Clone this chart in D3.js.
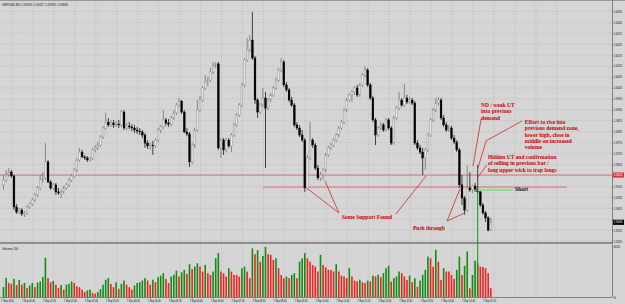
<html>
<head>
<title>GBPUSD M5 - 7 Sep 2011</title>
<script src="https://d3js.org/d3.v7.min.js"></script>
<style>
body { margin: 0; padding: 0; background: #d5d5d5; overflow: hidden; }
text { font-family: "Liberation Sans", Arial, sans-serif; }
.note { font-family: "Liberation Serif", "DejaVu Serif", serif; font-weight: bold; fill: #cc0000; font-size: 5.5px; }
</style>
</head>
<body>
<svg id="chart" width="625" height="304"></svg>
<script>

// GBPUSD M5, 7 Sep 2011, one row = 40 minutes (8 bars)
var opens = [
1.59577,1.59599,1.59622,1.59636,1.59618,1.59476,1.59453,1.59462,
1.59444,1.59449,1.59476,1.59490,1.59508,1.59531,1.59563,1.59599,
1.59609,1.59682,1.59590,1.59563,1.59577,1.59545,1.59540,1.59545,
1.59563,1.59577,1.59599,1.59618,1.59645,1.59691,1.59727,1.59705,
1.59700,1.59691,1.59700,1.59737,1.59746,1.59759,1.59796,1.59837,
1.59864,1.59851,1.59860,1.59851,1.59855,1.59851,1.59910,1.59837,
1.59846,1.59842,1.59837,1.59828,1.59823,1.59819,1.59805,1.59768,
1.59755,1.59759,1.59755,1.59782,1.59828,1.59842,1.59874,1.59860,
1.59855,1.59883,1.59906,1.59942,1.59960,1.59910,1.59819,1.59810,
1.59682,1.59759,1.59828,1.59919,1.59965,1.60020,1.60047,1.60056,
1.60093,1.60120,1.60130,1.59746,1.59782,1.59737,1.59782,1.59755,
1.59805,1.59851,1.59896,1.59942,1.60034,1.60148,1.60194,1.60239,
1.60157,1.59965,1.59910,1.59942,1.59974,1.59928,1.59965,1.59988,
1.60020,1.60056,1.60102,1.60139,1.60034,1.60011,1.59965,1.59942,
1.59851,1.59837,1.59805,1.59782,1.59563,1.59700,1.59782,1.59759,
1.59654,1.59609,1.59622,1.59645,1.59714,1.59746,1.59759,1.59782,
1.59805,1.59837,1.59864,1.59919,1.59965,1.59988,1.60002,1.60020,
1.59988,1.60034,1.60079,1.60102,1.60034,1.59974,1.59874,1.59805,
1.59837,1.59851,1.59828,1.59874,1.59837,1.59768,1.59883,1.59928,
1.59965,1.59942,1.59974,1.59956,1.59965,1.59951,1.59768,1.59746,
1.59727,1.59700,1.59737,1.59805,1.59874,1.59919,1.59951,1.59965,
1.59883,1.59851,1.59828,1.59837,1.59791,1.59773,1.59737,1.59577,
1.59517,1.59462,1.59563,1.59554,1.59572,1.59558,1.59545,1.59485,
1.59449,1.59426,1.59370];

var highs = [
1.59622,1.59645,1.59654,1.59645,1.59622,1.59490,1.59471,1.59471,
1.59458,1.59485,1.59499,1.59517,1.59540,1.59572,1.59622,1.59636,
1.59768,1.59691,1.59599,1.59586,1.59586,1.59563,1.59554,1.59572,
1.59586,1.59609,1.59627,1.59654,1.59700,1.59746,1.59737,1.59714,
1.59709,1.59705,1.59746,1.59759,1.59773,1.59805,1.59846,1.59906,
1.59883,1.59874,1.59874,1.59869,1.59874,1.59919,1.59919,1.59860,
1.59864,1.59855,1.59851,1.59842,1.59837,1.59828,1.59814,1.59782,
1.59773,1.59778,1.59791,1.59837,1.59851,1.59919,1.59883,1.59878,
1.59892,1.59919,1.59951,1.59974,1.59965,1.59919,1.59837,1.59819,
1.59768,1.59837,1.59965,1.59983,1.60029,1.60079,1.60070,1.60111,
1.60139,1.60139,1.60139,1.59791,1.59791,1.59791,1.59791,1.59814,
1.59860,1.59906,1.59951,1.60043,1.60157,1.60248,1.60262,1.60367,
1.60166,1.59974,1.59951,1.60020,1.60002,1.59974,1.59997,1.60029,
1.60066,1.60111,1.60157,1.60148,1.60047,1.60020,1.59979,1.59951,
1.59864,1.59851,1.59828,1.59791,1.59714,1.59864,1.59791,1.59768,
1.59668,1.59636,1.59654,1.59723,1.59755,1.59768,1.59791,1.59814,
1.59846,1.59874,1.59928,1.59974,1.59997,1.60011,1.60029,1.60034,
1.60043,1.60088,1.60120,1.60111,1.60043,1.59983,1.59883,1.59846,
1.59864,1.59860,1.59883,1.59883,1.59846,1.59892,1.59938,1.60002,
1.59974,1.60038,1.59988,1.59979,1.59974,1.59960,1.59782,1.59759,
1.59746,1.59746,1.59814,1.59883,1.59928,1.59974,1.59979,1.59974,
1.59896,1.59864,1.59851,1.59846,1.59805,1.59782,1.59746,1.59622,
1.59526,1.59668,1.59636,1.59577,1.59586,1.59668,1.59554,1.59494,
1.59458,1.59435,1.59427];

var lows = [
1.59554,1.59590,1.59613,1.59609,1.59462,1.59444,1.59444,1.59435,
1.59430,1.59440,1.59467,1.59481,1.59499,1.59522,1.59554,1.59586,
1.59599,1.59586,1.59554,1.59554,1.59531,1.59531,1.59517,1.59536,
1.59554,1.59567,1.59590,1.59609,1.59636,1.59682,1.59700,1.59691,
1.59682,1.59682,1.59691,1.59727,1.59737,1.59750,1.59787,1.59828,
1.59842,1.59842,1.59837,1.59842,1.59837,1.59842,1.59828,1.59828,
1.59832,1.59823,1.59814,1.59810,1.59805,1.59791,1.59746,1.59741,
1.59737,1.59714,1.59746,1.59773,1.59814,1.59832,1.59846,1.59842,
1.59846,1.59874,1.59896,1.59933,1.59901,1.59814,1.59800,1.59659,
1.59672,1.59746,1.59819,1.59910,1.59956,1.60011,1.60029,1.60047,
1.60084,1.60111,1.59737,1.59700,1.59714,1.59727,1.59746,1.59727,
1.59796,1.59842,1.59887,1.59933,1.60024,1.60139,1.60184,1.60148,
1.59947,1.59883,1.59901,1.59933,1.59654,1.59919,1.59956,1.59979,
1.60011,1.60047,1.60093,1.60024,1.60002,1.59956,1.59933,1.59842,
1.59828,1.59796,1.59773,1.59545,1.59554,1.59691,1.59746,1.59645,
1.59599,1.59595,1.59599,1.59636,1.59705,1.59737,1.59750,1.59773,
1.59796,1.59828,1.59855,1.59910,1.59956,1.59956,1.59988,1.59979,
1.59979,1.60024,1.60070,1.60024,1.59965,1.59864,1.59759,1.59796,
1.59828,1.59819,1.59819,1.59828,1.59759,1.59759,1.59874,1.59919,
1.59933,1.59933,1.59947,1.59947,1.59942,1.59759,1.59737,1.59718,
1.59622,1.59645,1.59727,1.59796,1.59864,1.59910,1.59942,1.59874,
1.59842,1.59819,1.59819,1.59782,1.59764,1.59727,1.59563,1.59485,
1.59440,1.59453,1.59545,1.59540,1.59545,1.59536,1.59476,1.59440,
1.59407,1.59365,1.59370];

var closes = [
1.59599,1.59622,1.59636,1.59618,1.59476,1.59453,1.59462,1.59444,
1.59449,1.59476,1.59490,1.59508,1.59531,1.59563,1.59599,1.59609,
1.59682,1.59590,1.59563,1.59577,1.59545,1.59540,1.59545,1.59563,
1.59577,1.59599,1.59618,1.59645,1.59691,1.59727,1.59705,1.59700,
1.59691,1.59700,1.59737,1.59746,1.59759,1.59796,1.59837,1.59864,
1.59851,1.59860,1.59851,1.59855,1.59851,1.59910,1.59837,1.59846,
1.59842,1.59837,1.59828,1.59823,1.59819,1.59805,1.59768,1.59755,
1.59759,1.59755,1.59782,1.59828,1.59842,1.59874,1.59860,1.59855,
1.59883,1.59906,1.59942,1.59960,1.59910,1.59819,1.59810,1.59682,
1.59759,1.59828,1.59919,1.59965,1.60020,1.60047,1.60056,1.60093,
1.60120,1.60130,1.59746,1.59782,1.59737,1.59782,1.59755,1.59805,
1.59851,1.59896,1.59942,1.60034,1.60148,1.60194,1.60239,1.60157,
1.59965,1.59910,1.59942,1.59974,1.59928,1.59965,1.59988,1.60020,
1.60056,1.60102,1.60139,1.60034,1.60011,1.59965,1.59942,1.59851,
1.59837,1.59805,1.59782,1.59563,1.59700,1.59782,1.59759,1.59654,
1.59609,1.59622,1.59645,1.59714,1.59746,1.59759,1.59782,1.59805,
1.59837,1.59864,1.59919,1.59965,1.59988,1.60002,1.60020,1.59988,
1.60034,1.60079,1.60102,1.60034,1.59974,1.59874,1.59805,1.59837,
1.59851,1.59828,1.59874,1.59837,1.59768,1.59883,1.59928,1.59965,
1.59942,1.59974,1.59956,1.59965,1.59951,1.59768,1.59746,1.59727,
1.59700,1.59737,1.59805,1.59874,1.59919,1.59951,1.59965,1.59883,
1.59851,1.59828,1.59837,1.59791,1.59773,1.59737,1.59577,1.59517,
1.59462,1.59563,1.59554,1.59572,1.59558,1.59545,1.59485,1.59449,
1.59426,1.59370,1.59406];

var volumes = [
122,232,171,160,220,146,207,150,
171,110,140,170,120,175,190,244,
476,230,180,195,150,110,145,90,
150,160,190,170,130,120,90,60,
80,90,50,40,60,95,150,210,
230,160,120,180,100,160,200,150,
120,90,140,170,180,200,230,200,
150,210,180,240,260,290,220,170,
250,270,320,250,300,330,280,400,
340,370,410,370,309,390,289,268,
309,472,533,309,289,248,350,309,
268,268,248,350,370,309,228,590,
520,570,430,500,610,520,512,451,
472,350,268,228,248,228,268,289,
228,430,470,533,470,430,390,370,
310,512,390,360,330,330,310,400,
310,260,250,230,350,250,200,190,
210,180,170,200,190,260,250,270,
240,290,350,380,187,230,250,310,
290,250,207,260,180,228,126,200,
270,330,492,472,370,573,430,207,
350,310,310,268,220,330,492,268,
380,553,106,268,440,410,370,365,
350,290,106];

var timeLabels = ["7 Sep 2011","7 Sep 00:40","7 Sep 01:20","7 Sep 02:00","7 Sep 02:40","7 Sep 03:20",
  "7 Sep 04:00","7 Sep 04:40","7 Sep 05:20","7 Sep 06:00","7 Sep 06:40","7 Sep 07:20","7 Sep 08:00",
  "7 Sep 08:40","7 Sep 09:20","7 Sep 10:00","7 Sep 10:40","7 Sep 11:20","7 Sep 12:00","7 Sep 12:40",
  "7 Sep 13:20","7 Sep 14:00","7 Sep 14:40","7 Sep 15:20"];

var priceTicks = [1.59320,1.59370,1.59420,1.59470,1.59520,1.59570,1.59620,1.59670,1.59720,1.59770,1.59820,
  1.59870,1.59920,1.59970,1.60020,1.60070,1.60120,1.60170,1.60220,1.60270,1.60320,1.60370];

var volumeTicks = [0, 620];

// horizontal lines drawn on the chart
var levelHigh = 1.59622;
var levelLow = 1.59567, levelLowFrom = 99, levelLowTo = 215;
var shortPrice = 1.59554, shortBar = 181, shortTo = 194.5;

// annotations: [bar, price]
var notes = [
  { lines: ["Some Support Found"], at: [129.2, 1.59421] },
  { lines: ["Push through"], at: [156.3, 1.59371] },
  { lines: ["ND / weak UT", "into previous", "demand"], at: [182.3, 1.59933] },
  { lines: ["Effort to rise into", "previous demand zone,", "lower high, close in", "middle on increased", "volume"], at: [199, 1.59855] },
  { lines: ["Hidden UT and confirmation", "of selling in previous bar /", "long upper wick to trap longs"], at: [184.9, 1.59695] }
];
var leaders = [
  [[128, 1.59449], [116.2, 1.59558]],
  [[128, 1.59449], [122.7, 1.59595]],
  [[149.8, 1.59444], [161.3, 1.59618]],
  [[169.3, 1.59412], [174.2, 1.59558]],
  [[169.3, 1.59412], [176.1, 1.59449]],
  [[182.3, 1.59878], [179.2, 1.59663]],
  [[197.9, 1.59869], [184.2, 1.59778], [181.1, 1.59654]],
  [[184.5, 1.59668], [181.1, 1.59613]]
];

var plotRight = 612, priceBottom = 242, volTop = 245, volBottom = 297;

var svg = d3.select("#chart");

var x = d3.scaleLinear().domain([0, closes.length - 1]).range([3.5, 490.8]);
var y = d3.scaleLinear().domain([1.5932, 1.6037]).range([241.1, 11.4]);
var yv = d3.scaleLinear().domain([0, 620]).range([volBottom, 246]);

svg.append("rect").attr("width", 625).attr("height", 304).attr("fill", "#d5d5d5");

// grid
var gridBars = d3.range(4, closes.length + 30, 8);
svg.append("g").selectAll("line").data(gridBars).enter().append("line")
	.attr("x1", function(d) { return x(d) - 2; })
	.attr("x2", function(d) { return x(d) - 2; })
	.attr("y1", 2).attr("y2", volBottom)
	.attr("stroke", "#b4b4b4").attr("stroke-width", 0.6).attr("stroke-dasharray", "1,1");
svg.append("g").selectAll("line").data(priceTicks).enter().append("line")
	.attr("x1", 0).attr("x2", plotRight)
	.attr("y1", function(d) { return y(d); })
	.attr("y2", function(d) { return y(d); })
	.attr("stroke", "#b4b4b4").attr("stroke-width", 0.6).attr("stroke-dasharray", "1,1");

// frame
svg.append("line").attr("x1", 0).attr("x2", 625).attr("y1", 0.5).attr("y2", 0.5).attr("stroke", "#9a9a9a");
svg.append("rect").attr("x", 0).attr("y", priceBottom).attr("width", plotRight).attr("height", 2).attr("fill", "#8e8e8e");
svg.append("line").attr("x1", plotRight + 0.5).attr("x2", plotRight + 0.5).attr("y1", 0).attr("y2", volBottom)
	.attr("stroke", "#6a6a6a").attr("stroke-width", 0.8);
svg.append("line").attr("x1", 0).attr("x2", plotRight).attr("y1", volBottom + 0.5).attr("y2", volBottom + 0.5)
	.attr("stroke", "#6a6a6a").attr("stroke-width", 0.8);

// red levels
svg.append("line").attr("x1", 0).attr("x2", plotRight)
	.attr("y1", y(levelHigh)).attr("y2", y(levelHigh))
	.attr("stroke", "#e06666").attr("stroke-width", 0.9);
svg.append("line").attr("x1", x(levelLowFrom)).attr("x2", x(levelLowTo))
	.attr("y1", y(levelLow)).attr("y2", y(levelLow))
	.attr("stroke", "#e06666").attr("stroke-width", 0.9);

// candles
var bars = d3.range(closes.length);
function up(i) { return closes[i] >= opens[i]; }

svg.append("g").selectAll("line").data(bars).enter().append("line")
	.attr("x1", function(d) { return x(d); })
	.attr("x2", function(d) { return x(d); })
	.attr("y1", function(d) { return y(highs[d]); })
	.attr("y2", function(d) { return y(lows[d]); })
	.attr("stroke", function(d) { return up(d) ? "#666" : "#000"; })
	.attr("stroke-width", 0.7);

svg.append("g").selectAll("rect").data(bars).enter().append("rect")
	.attr("x", function(d) { return x(d) - 0.9; })
	.attr("width", 1.8)
	.attr("y", function(d) { return y(Math.max(opens[d], closes[d])); })
	.attr("height", function(d) { return Math.max(0.6, Math.abs(y(opens[d]) - y(closes[d]))); })
	.attr("fill", function(d) { return up(d) ? "#e6e6e6" : "#000"; })
	.attr("stroke", function(d) { return up(d) ? "#8c8c8c" : "#000"; })
	.attr("stroke-width", 0.4);

// volumes, green when volume rises
svg.append("g").selectAll("rect").data(bars).enter().append("rect")
	.attr("x", function(d) { return x(d) - 0.8; })
	.attr("width", 1.6)
	.attr("y", function(d) { return yv(volumes[d]); })
	.attr("height", function(d) { return volBottom - yv(volumes[d]); })
	.attr("fill", function(d) { return d == 0 || volumes[d] > volumes[d - 1] ? "#128c12" : "#ee2424"; });

// short entry
svg.append("line").attr("x1", x(shortBar)).attr("x2", x(shortTo))
	.attr("y1", y(shortPrice)).attr("y2", y(shortPrice))
	.attr("stroke", "#8ede8e").attr("stroke-width", 2);
svg.append("line").attr("x1", x(shortBar)).attr("x2", x(shortBar))
	.attr("y1", y(shortPrice)).attr("y2", volBottom)
	.attr("stroke", "#0a9a0a").attr("stroke-width", 1);
svg.append("text").attr("x", x(shortTo) + 2).attr("y", y(shortPrice) + 1.5)
	.attr("class", "note").style("fill", "#111").text("Short");

// annotations
var line = d3.line().x(function(d) { return x(d[0]); }).y(function(d) { return y(d[1]); });
svg.append("g").selectAll("path").data(leaders).enter().append("path")
	.attr("d", line).attr("fill", "none").attr("stroke", "#cc1111").attr("stroke-width", 0.7);

notes.forEach(function(n) {
	var t = svg.append("text").attr("class", "note")
		.attr("x", x(n.at[0])).attr("y", y(n.at[1]));
	n.lines.forEach(function(s, k) {
		t.append("tspan").attr("x", x(n.at[0])).attr("dy", k == 0 ? 0 : 6.3).text(s);
	});
});

// level and bid markers on the axis
var markers = [[levelHigh, "#d23c3c"], [closes[closes.length - 1], "#000"]];

// price axis
var priceAxis = d3.axisRight(y).tickValues(priceTicks).tickFormat(d3.format(".5f")).tickSize(1).tickPadding(0.2);
var pa = svg.append("g").attr("transform", "translate(" + (plotRight + 0.5) + ",0)").call(priceAxis);
pa.select(".domain").remove();
pa.selectAll("line").attr("stroke", "#444").attr("stroke-width", 0.5);
pa.selectAll("text").attr("font-size", 2.8).attr("fill", "#111")
	.attr("textLength", 8.5).attr("lengthAdjust", "spacingAndGlyphs")
	.attr("display", function(d) {
		return markers.some(function(m) { return Math.abs(y(m[0]) - y(d)) < 5; }) ? "none" : null;
	});

markers.forEach(function(m) {
	svg.append("rect").attr("x", plotRight + 1).attr("y", y(m[0]) - 2.6).attr("width", 11).attr("height", 5.2).attr("fill", m[1]);
	svg.append("text").attr("x", plotRight + 1.8).attr("y", y(m[0]) + 1.1).attr("font-size", 2.8).attr("fill", "#fff")
		.attr("textLength", 8.5).attr("lengthAdjust", "spacingAndGlyphs").text(d3.format(".5f")(m[0]));
});

// volume axis
var volAxis = d3.axisRight(yv).tickValues(volumeTicks).tickSize(1).tickPadding(0.5);
var va = svg.append("g").attr("transform", "translate(" + (plotRight + 0.5) + ",0)").call(volAxis);
va.select(".domain").remove();
va.selectAll("line").attr("stroke", "#444").attr("stroke-width", 0.5);
va.selectAll("text").attr("font-size", 3.5).attr("fill", "#111");

// time axis
var labelBars = timeLabels.map(function(s, k) { return k * 8; });
var ta = svg.append("g").attr("transform", "translate(0," + volBottom + ")")
	.call(d3.axisBottom(x).tickValues(labelBars).tickFormat(function(d, k) { return timeLabels[k]; }).tickSize(1.5).tickPadding(0));
ta.select(".domain").remove();
ta.selectAll("line").attr("stroke", "#444").attr("stroke-width", 0.5);
ta.selectAll("text").attr("font-size", 4).attr("fill", "#111").attr("text-anchor", "start")
	.attr("x", -3).attr("y", 2).attr("dy", "0.71em")
	.attr("textLength", 13).attr("lengthAdjust", "spacingAndGlyphs");

// headers
svg.append("text").attr("x", 2).attr("y", 6).attr("font-size", 4).attr("fill", "#111")
	.attr("textLength", 66).attr("lengthAdjust", "spacingAndGlyphs")
	.text("GBPUSD,M5  1.59370 1.59427 1.59370 1.59406");
svg.append("text").attr("x", 2).attr("y", 249.5).attr("font-size", 4).attr("fill", "#111")
	.attr("textLength", 16).attr("lengthAdjust", "spacingAndGlyphs")
	.text("Volumes 200");

</script>
</body>
</html>
